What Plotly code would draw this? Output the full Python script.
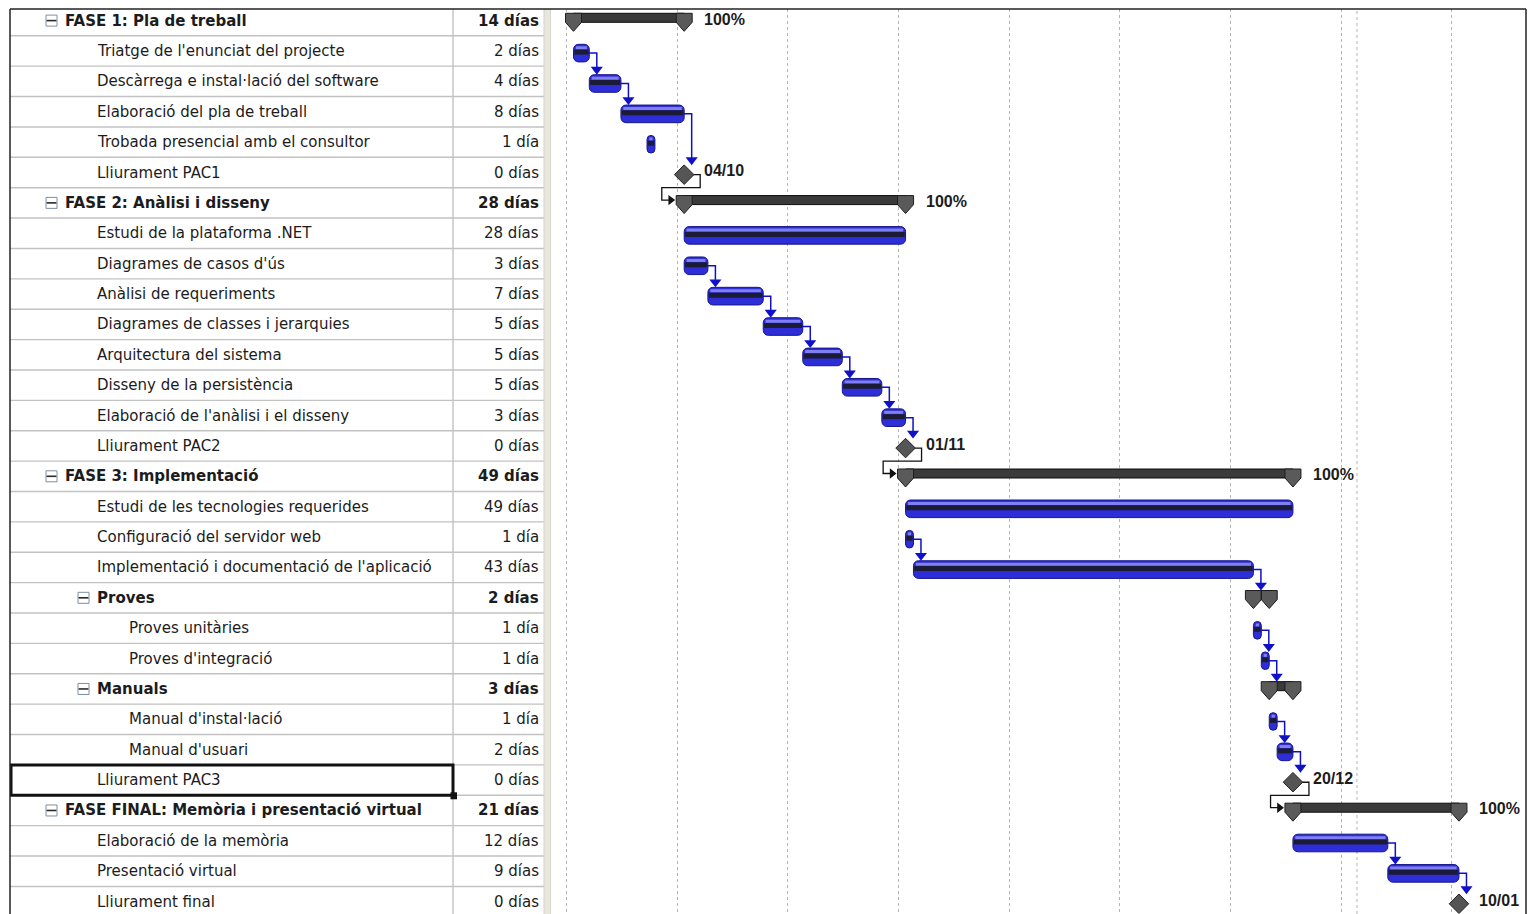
import plotly.graph_objects as go

# ---------------- data ----------------
task_names = [
    "FASE 1: Pla de treball",
    "Triatge de l'enunciat del projecte",
    "Descàrrega e instal·lació del software",
    "Elaboració del pla de treball",
    "Trobada presencial amb el consultor",
    "Lliurament PAC1",
    "FASE 2: Anàlisi i disseny",
    "Estudi de la plataforma .NET",
    "Diagrames de casos d'ús",
    "Anàlisi de requeriments",
    "Diagrames de classes i jerarquies",
    "Arquitectura del sistema",
    "Disseny de la persistència",
    "Elaboració de l'anàlisi i el disseny",
    "Lliurament PAC2",
    "FASE 3: Implementació",
    "Estudi de les tecnologies requerides",
    "Configuració del servidor web",
    "Implementació i documentació de l'aplicació",
    "Proves",
    "Proves unitàries",
    "Proves d'integració",
    "Manuals",
    "Manual d'instal·lació",
    "Manual d'usuari",
    "Lliurament PAC3",
    "FASE FINAL: Memòria i presentació virtual",
    "Elaboració de la memòria",
    "Presentació virtual",
    "Lliurament final",
]
duration_labels = [
    "14 días", "2 días", "4 días", "8 días", "1 día", "0 días",
    "28 días", "28 días", "3 días", "7 días", "5 días", "5 días", "5 días", "3 días", "0 días",
    "49 días", "49 días", "1 día", "43 días", "2 días", "1 día", "1 día", "3 días", "1 día", "2 días", "0 días",
    "21 días", "12 días", "9 días", "0 días",
]
outline_levels = [0, 1, 1, 1, 1, 1,
                  0, 1, 1, 1, 1, 1, 1, 1, 1,
                  0, 1, 1, 1, 1, 2, 2, 1, 2, 2, 1,
                  0, 1, 1, 1]
task_kinds = ["summary", "task", "task", "task", "task", "milestone",
              "summary", "task", "task", "task", "task", "task", "task", "task", "milestone",
              "summary", "task", "task", "task", "summary", "task", "task", "summary", "task", "task", "milestone",
              "summary", "task", "task", "milestone"]
# start day (days after project start) and length in days
start_days = [0, 0, 2, 6, 9.3, 14,
              14, 14, 14, 17, 24, 29, 34, 39, 42,
              42, 42, 42, 43, 86, 86, 87, 88, 88, 89, 91,
              91, 91, 103, 112]
length_days = [14, 2, 4, 8, 1, 0,
               28, 28, 3, 7, 5, 5, 5, 3, 0,
               49, 49, 1, 43, 2, 1, 1, 3, 1, 2, 0,
               21, 12, 9, 0]
milestone_rows = [5, 14, 25, 29]
milestone_dates = ["04/10", "01/11", "20/12", "10/01"]
phase_rows = [0, 6, 15, 26]
phase_complete = ["100%", "100%", "100%", "100%"]
link_from = [1, 2, 3, 5, 8, 9, 10, 11, 12, 13, 14, 17, 18, 20, 21, 23, 24, 25, 27, 28]
link_to = [2, 3, 5, 6, 9, 10, 11, 12, 13, 14, 15, 18, 19, 21, 22, 24, 25, 26, 28, 29]
selected_row = 25
grid_start_day = -0.9
grid_step_days = 14
status_line_day = 99.1

# ---------------- layout constants ----------------
W, H = 1530, 914
ML, MR, MT, MB = 10, 4, 9, 0
ROW0_PX, ROW_PX = 20.6, 30.38
TABLE_RIGHT = 551
DAY0_PX, DAY_PX = 573.5, 7.906
FONT = "DejaVu Sans"
TXT = "#1c1c1c"

plot_w = W - ML - MR
d1 = (TABLE_RIGHT - ML) / plot_w
y_top = (MT - ROW0_PX) / ROW_PX
y_bot = (H - MB - ROW0_PX) / ROW_PX
x2_lo = (ML + d1 * plot_w - DAY0_PX) / DAY_PX
x2_hi = (W - MR - DAY0_PX) / DAY_PX


def pxd(p):
    return p / DAY_PX


def pxr(p):
    return p / ROW_PX


rows = list(range(len(task_names)))
end_days = [s + l for s, l in zip(start_days, length_days)]

fig = go.Figure()

# ---------------- table ----------------
lx, ly = [], []
for r in rows:
    lx += [ML, 544, None]
    ly += [r + 0.5, r + 0.5, None]
fig.add_trace(go.Scatter(x=lx, y=ly, mode="lines", line=dict(color="#c2c2c2", width=1.4),
                         xaxis="x", yaxis="y", hoverinfo="skip", showlegend=False))

# collapse boxes for summaries
bx = [51.5 + 32 * outline_levels[i] for i in rows if task_kinds[i] == "summary"]
byy = [i for i in rows if task_kinds[i] == "summary"]
fig.add_trace(go.Scatter(x=bx, y=byy, mode="markers",
                         marker=dict(symbol="square", size=11, color="white",
                                     line=dict(color="#7f8fa0", width=1)),
                         xaxis="x", yaxis="y", hoverinfo="skip", showlegend=False))
fig.add_trace(go.Scatter(x=bx, y=byy, mode="markers",
                         marker=dict(symbol="line-ew", size=7, line=dict(color="#2a2a2a", width=1.6)),
                         xaxis="x", yaxis="y", hoverinfo="skip", showlegend=False))

annotations = []
for i in rows:
    bold = task_kinds[i] == "summary"
    name = f"<b>{task_names[i]}</b>" if bold else task_names[i]
    dur = f"<b>{duration_labels[i]}</b>" if bold else duration_labels[i]
    annotations.append(dict(x=64 + 32 * outline_levels[i], y=i, xref="x", yref="y", text=name,
                            showarrow=False, xanchor="left", yanchor="middle", borderpad=0,
                            font=dict(family=FONT, size=15, color=TXT)))
    annotations.append(dict(x=540, y=i, xref="x", yref="y", text=dur,
                            showarrow=False, xanchor="right", yanchor="middle", borderpad=0,
                            font=dict(family=FONT, size=15, color=TXT)))

# ---------------- gantt ----------------
task_idx = [i for i in rows if task_kinds[i] == "task"]
sum_idx = [i for i in rows if task_kinds[i] == "summary"]

BAR_C = 0.07
BAR_W = 0.58
fig.add_trace(go.Bar(orientation="h", y=task_idx, x=[length_days[i] for i in task_idx],
                     base=[start_days[i] for i in task_idx], width=BAR_W, offset=BAR_C - BAR_W / 2,
                     marker=dict(color="#2e2ed8", line=dict(color="#16168a", width=1), cornerradius=5),
                     xaxis="x2", yaxis="y", hoverinfo="skip", showlegend=False))
inset = 0.3
fig.add_trace(go.Bar(orientation="h", y=task_idx,
                     x=[max(length_days[i] - 2 * inset, 0.3) for i in task_idx],
                     base=[start_days[i] + min(inset, length_days[i] * 0.35) for i in task_idx],
                     width=pxr(3), offset=BAR_C - BAR_W / 2 + pxr(2),
                     marker=dict(color="#8080f4", line=dict(width=0)),
                     xaxis="x2", yaxis="y", hoverinfo="skip", showlegend=False))
fig.add_trace(go.Bar(orientation="h", y=task_idx,
                     x=[max(length_days[i] - 0.2, 0.4) for i in task_idx],
                     base=[start_days[i] + 0.1 for i in task_idx],
                     width=pxr(5), offset=BAR_C - pxr(3.5),
                     marker=dict(color="#1b1b36", line=dict(width=0)),
                     xaxis="x2", yaxis="y", hoverinfo="skip", showlegend=False))

# summary bars
SUM_TOP = -0.24
SUM_W = pxr(9)
fig.add_trace(go.Bar(orientation="h", y=sum_idx, x=[length_days[i] for i in sum_idx],
                     base=[start_days[i] for i in sum_idx], width=SUM_W, offset=SUM_TOP,
                     marker=dict(color="#3a3a3a", line=dict(color="#0c0c0c", width=1)),
                     xaxis="x2", yaxis="y", hoverinfo="skip", showlegend=False))

# dependency links
blx, bly, bax, bay = [], [], [], []
klx, kly, kax, kay = [], [], [], []
ARW = 10.5
for a, b in zip(link_from, link_to):
    if task_kinds[a] == "milestone":
        M = start_days[a]
        yc = a + BAR_C
        yn = b + SUM_TOP + SUM_W / 2
        xs = [M + pxd(8.5), M + pxd(16), M + pxd(16), M - pxd(22.4), M - pxd(22.4), M - pxd(13.5), None]
        ys = [yc, yc, a + 0.5, a + 0.5, yn, yn, None]
        klx += xs
        kly += ys
        kax.append(M - pxd(9) - pxd(4.5))
        kay.append(yn)
    else:
        E = end_days[a]
        xv = E + pxd(7.5)
        y0 = a + BAR_C
        if task_kinds[b] == "task":
            tip = b + BAR_C - BAR_W / 2
        elif task_kinds[b] == "milestone":
            tip = b + BAR_C - pxr(9.5)
        else:
            tip = b + SUM_TOP
        yc = tip - pxr(ARW / 2)
        blx += [E - 0.1, xv, xv, None]
        bly += [y0, y0, yc, None]
        bax.append(xv)
        bay.append(yc)

fig.add_trace(go.Scatter(x=blx, y=bly, mode="lines", line=dict(color="#1010c8", width=1.5),
                         xaxis="x2", yaxis="y", hoverinfo="skip", showlegend=False))
fig.add_trace(go.Scatter(x=klx, y=kly, mode="lines", line=dict(color="#111111", width=1.3),
                         xaxis="x2", yaxis="y", hoverinfo="skip", showlegend=False))

# summary caps
cx, cy = [], []
hw = pxd(8)
for i in sum_idx:
    top = i + SUM_TOP
    sh = top + pxr(9)
    pt = top + pxr(18)
    for d in (start_days[i], end_days[i]):
        cx += [d - hw, d + hw, d + hw, d, d - hw, d - hw, None]
        cy += [top, top, sh, pt, sh, top, None]
fig.add_trace(go.Scatter(x=cx, y=cy, mode="lines", fill="toself", fillcolor="#5a5a5a",
                         line=dict(color="#1e1e1e", width=1),
                         xaxis="x2", yaxis="y", hoverinfo="skip", showlegend=False))

# milestones
fig.add_trace(go.Scatter(x=[start_days[i] for i in milestone_rows], y=[i + BAR_C for i in milestone_rows],
                         mode="markers",
                         marker=dict(symbol="diamond", size=15, color="#555555",
                                     line=dict(color="#222222", width=1)),
                         xaxis="x2", yaxis="y", hoverinfo="skip", showlegend=False))

# arrowheads
fig.add_trace(go.Scatter(x=bax, y=bay, mode="markers",
                         marker=dict(symbol="triangle-down", size=ARW, color="#1010c8", line=dict(width=0)),
                         xaxis="x2", yaxis="y", hoverinfo="skip", showlegend=False))
fig.add_trace(go.Scatter(x=kax, y=kay, mode="markers",
                         marker=dict(symbol="triangle-right", size=9, color="#111111", line=dict(width=0)),
                         xaxis="x2", yaxis="y", hoverinfo="skip", showlegend=False))

# labels
for r, lab in zip(milestone_rows, milestone_dates):
    annotations.append(dict(x=start_days[r] + pxd(19), y=r - 0.05, xref="x2", yref="y",
                            text=f"<b>{lab}</b>", showarrow=False, xanchor="left", yanchor="middle",
                            borderpad=0, font=dict(family="Liberation Sans", size=16, color=TXT)))
for r, lab in zip(phase_rows, phase_complete):
    annotations.append(dict(x=end_days[r] + pxd(19), y=r - 0.05, xref="x2", yref="y",
                            text=f"<b>{lab}</b>", showarrow=False, xanchor="left", yanchor="middle",
                            borderpad=0, font=dict(family="Liberation Sans", size=16, color=TXT)))

shapes = [
    # column divider between name and duration
    dict(type="line", xref="x", yref="paper", x0=453, x1=453, y0=0, y1=1,
         line=dict(color="#c2c2c2", width=1.4)),
    # splitter strip
    dict(type="rect", xref="x", yref="paper", x0=544, x1=551, y0=0, y1=1,
         fillcolor="#e9e7dd", line=dict(width=0), layer="below"),
    dict(type="line", xref="x", yref="paper", x0=544, x1=544, y0=0, y1=1,
         line=dict(color="#d0d0d0", width=1)),
    dict(type="line", xref="x", yref="paper", x0=551, x1=551, y0=0, y1=1,
         line=dict(color="#c4c4bc", width=1)),
    # status line
    dict(type="line", xref="x2", yref="paper", x0=status_line_day, x1=status_line_day, y0=0, y1=1,
         line=dict(color="#b4b4b4", width=1, dash="dot"), layer="below"),
    # selection
    dict(type="rect", xref="x", yref="y", x0=ML + 1, x1=453, y0=selected_row - 0.5, y1=selected_row + 0.5,
         line=dict(color="#111111", width=3)),
    dict(type="rect", xref="x", yref="y", x0=450.5, x1=457, y0=selected_row + 0.5 - pxr(3), y1=selected_row + 0.5 + pxr(4),
         fillcolor="#111111", line=dict(width=0)),
    # outer border
    dict(type="line", xref="paper", yref="paper", x0=0, x1=1, y0=1, y1=1, line=dict(color="#222222", width=1.5)),
    dict(type="line", xref="paper", yref="paper", x0=0, x1=0, y0=0, y1=1, line=dict(color="#222222", width=1.5)),
    dict(type="line", xref="paper", yref="paper", x0=1, x1=1, y0=0, y1=1, line=dict(color="#222222", width=1.5)),
]

fig.update_layout(
    width=W, height=H,
    margin=dict(l=ML, r=MR, t=MT, b=MB, pad=0),
    paper_bgcolor="white", plot_bgcolor="white",
    barmode="overlay",
    showlegend=False,
    xaxis=dict(domain=[0, d1], range=[ML, TABLE_RIGHT], showgrid=False, zeroline=False,
               showticklabels=False, ticks="", fixedrange=True),
    xaxis2=dict(domain=[d1, 1], range=[x2_lo, x2_hi], anchor="y", showgrid=True,
                tick0=grid_start_day, dtick=grid_step_days, gridcolor="#b4b4b4", gridwidth=1,
                griddash="dot", zeroline=False, showticklabels=False, ticks="", fixedrange=True),
    yaxis=dict(range=[y_bot, y_top], showgrid=False, zeroline=False, showticklabels=False,
               ticks="", fixedrange=True),
    annotations=annotations,
    shapes=shapes,
)

fig.write_html("out.html")
